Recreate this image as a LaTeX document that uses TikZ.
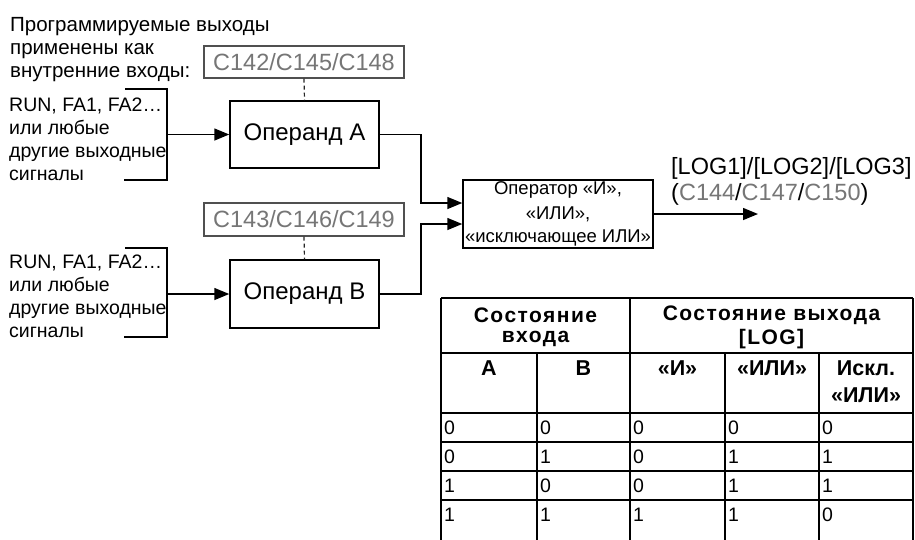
\documentclass[tikz,border=0pt]{standalone}
\usepackage{fontspec}
\setmainfont{Liberation Sans}
\usetikzlibrary{arrows.meta}
\definecolor{codegray}{HTML}{767676}
\definecolor{boxgray}{HTML}{505050}
\newcommand\fsz[1]{\fontsize{#1}{#1}\selectfont}
\begin{document}
\begin{tikzpicture}[x=1pt,y=-1pt,
  lbl/.style={inner sep=0pt, anchor=base west, font=\fsz{19.5}},
  ttl/.style={inner sep=0pt, anchor=base west, font=\fsz{20.5}},
  opbox/.style={draw, line width=1.5pt, inner sep=0pt, font=\fsz{24}},
  codebox/.style={draw=boxgray, line width=1.1pt, inner sep=0pt, text=codegray, font=\fsz{23.5}},
  wire/.style={line width=1.5pt},
  arr/.style={line width=1.5pt, -{Triangle[length=15pt,width=12pt]}},
  dsh/.style={line width=1.2pt, dash pattern=on 4pt off 3pt, draw=black!85},
  grid/.style={line width=2.2pt},
  th/.style={inner sep=0pt, font=\fsz{21}\bfseries\addfontfeatures{LetterSpace=7}},
  th2/.style={inner sep=0pt, font=\fsz{21.5}\bfseries, align=center, anchor=north},
  td/.style={inner sep=0pt, anchor=west, font=\fsz{19.5}}]
\useasboundingbox (0,0) rectangle (915,539);

% title
\node[ttl] (t1) at (10,31) {Программируемые выходы};
\node[ttl] (t2) at (10,54) {применены как};
\node[ttl] (t3) at (10,77) {внутренние входы:};

% input A text
\node[lbl] (a1) at (9,111) {RUN, FA1, FA2…};
\node[lbl] (a2) at (9,134) {или любые};
\node[lbl] (a3) at (9,157) {другие выходные};
\node[lbl] (a4) at (9,180) {сигналы};
% input B text
\node[lbl] (b1) at (9,268) {RUN, FA1, FA2…};
\node[lbl] (b2) at (9,291) {или любые};
\node[lbl] (b3) at (9,314) {другие выходные};
\node[lbl] (b4) at (9,337) {сигналы};

% boxes
\node[codebox, minimum width=200pt, minimum height=32pt] (cA) at (304,62) {C142/C145/C148};
\node[codebox, minimum width=200pt, minimum height=33pt] (cB) at (304,219.5) {C143/C146/C149};
\node[opbox, minimum width=149pt, minimum height=67pt] (opA) at (304.5,134.5) {Операнд A};
\node[opbox, minimum width=149pt, minimum height=68pt] (opB) at (304.5,294) {Операнд B};
\node[opbox, minimum width=190pt, minimum height=68pt, font=\fsz{18.5}, align=center]
  (oper) at (558,214) {\raisebox{-3pt}{Оператор «И»,}\\[6pt]\raisebox{-3pt}{«ИЛИ»,}\\[6pt]\raisebox{-2pt}{«исключающее ИЛИ»}};

% dashed links
\draw[dsh] (cA.south) -- (opA.north);
\draw[dsh] (cB.south) -- (opB.north);

% input brackets
\coordinate (aT) at (125,89);
\coordinate (aM) at (167,134.5);
\coordinate (aB) at (124,180);
\coordinate (bT) at (125,248);
\coordinate (bM) at (167,294);
\coordinate (bB) at (124,337);
\draw[wire] (aT) -| (aM) |- (aB);
\draw[wire] (bT) -| (bM) |- (bB);
\draw[arr] (aM) -- (opA.west);
\draw[arr] (bM) -- (opB.west);

% to operator
\draw[arr] (opA.east) -- ++(41,0) |- ([yshift=11pt]oper.west);
\draw[arr] (opB.east) -- ++(41,0) |- ([yshift=-10pt]oper.west);

% output
\coordinate (out) at (758,214);
\draw[arr] (oper.east) -- (out);
\node[inner sep=0pt, anchor=base west, font=\fsz{23.5}] (o1) at (671,174) {[LOG1]/[LOG2]/[LOG3]};
\node[inner sep=0pt, anchor=base west, font=\fsz{23.5}] (o2) at (671,200)
  {(\textcolor{codegray}{C144}/\textcolor{codegray}{C147}/\textcolor{codegray}{C150})};

% table
\draw[grid] (441,298) -- (913,298);
\draw[grid] (441,353) -- (913,353);
\draw[grid] (441,413) -- (913,413);
\draw[grid] (441,442) -- (913,442);
\draw[grid] (441,471) -- (913,471);
\draw[grid] (441,500) -- (913,500);
\draw[grid] (441,298) -- (441,545);
\draw[grid] (630,298) -- (630,545);
\draw[grid] (913,298) -- (913,545);
\draw[grid] (537,353) -- (537,545);
\draw[grid] (725,353) -- (725,545);
\draw[grid] (819,353) -- (819,545);

\node[th] (h1a) at (535.5,315) {Состояние};
\node[th] (h1b) at (535.5,339) {входа};
\node[th] (h2a) at (771.5,315) {Состояние выхода};
\node[th] (h2b) at (771.5,339) {[LOG]};

\node[th2] (hA) at (489,360) {A};
\node[th2] (hB) at (583.5,360) {B};
\node[th2] (hI) at (677.5,360) {«И»};
\node[th2] (hO) at (772,360) {«ИЛИ»};
\node[th2] (hX) at (866,360) {Искл.\\[6pt]«ИЛИ»};

\node[td] (d11) at (444,427.5) {0};
\node[td] (d12) at (540,427.5) {0};
\node[td] (d13) at (633,427.5) {0};
\node[td] (d14) at (728,427.5) {0};
\node[td] (d15) at (822,427.5) {0};
\node[td] (d21) at (444,456.5) {0};
\node[td] (d22) at (540,456.5) {1};
\node[td] (d23) at (633,456.5) {0};
\node[td] (d24) at (728,456.5) {1};
\node[td] (d25) at (822,456.5) {1};
\node[td] (d31) at (444,485.5) {1};
\node[td] (d32) at (540,485.5) {0};
\node[td] (d33) at (633,485.5) {0};
\node[td] (d34) at (728,485.5) {1};
\node[td] (d35) at (822,485.5) {1};
\node[td] (d41) at (444,515) {1};
\node[td] (d42) at (540,515) {1};
\node[td] (d43) at (633,515) {1};
\node[td] (d44) at (728,515) {1};
\node[td] (d45) at (822,515) {0};
\end{tikzpicture}
\end{document}
